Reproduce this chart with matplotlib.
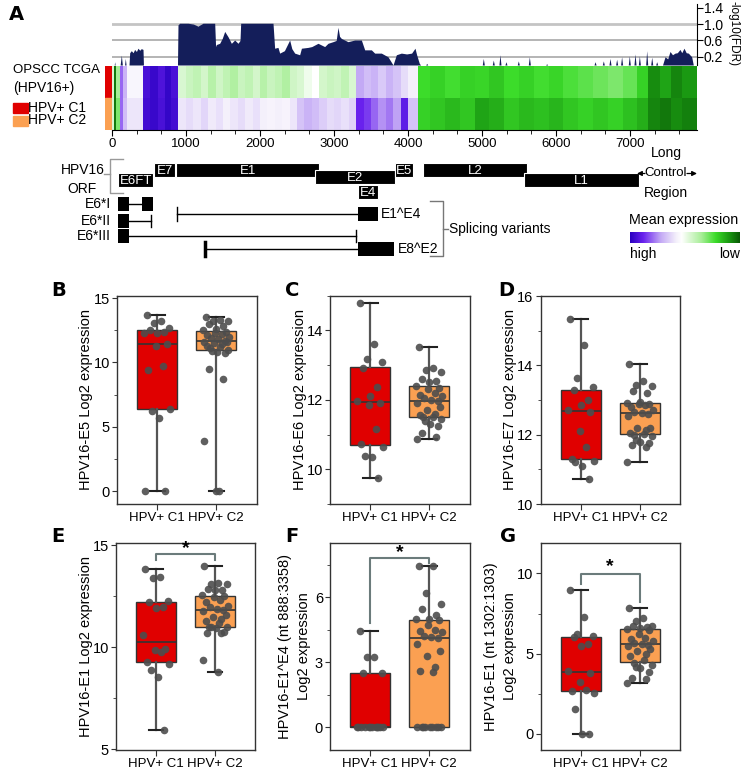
import numpy as np
import matplotlib
matplotlib.use("Agg")
import matplotlib.pyplot as plt
from matplotlib.colors import LinearSegmentedColormap
from matplotlib.patches import Rectangle
from matplotlib.ticker import AutoMinorLocator

plt.rcParams['font.family'] = ['Liberation Sans', 'DejaVu Sans']

# -------------------------------
# Panel A data
# -------------------------------
GENOME = 7906

# -log10(FDR) profile along the genome (bp, value)
cov_pos = [0, 30, 36, 42, 110, 126, 140, 170, 180, 190, 230, 239, 261, 285, 306, 330,
           351, 375, 396, 419, 425, 885, 892, 914, 1027, 1100, 1162, 1230, 1297, 1388,
           1400, 1410, 1455, 1490, 1523, 1568, 1613, 1658, 1703, 1730, 1739, 1770, 1973,
           2176, 2198, 2243, 2266, 2330, 2401, 2430, 2469, 2536, 2560, 2649, 2700, 2784,
           2874, 2919, 2987, 3030, 3054, 3075, 3099, 3189, 3280, 3370, 3415, 3505, 3550,
           3640, 3730, 3798, 3843, 3910, 3982, 4049, 4095, 4117, 4153, 4171]
cov_val = [0, 0, 0.08, 0, 0, 0.24, 0, 0, 0.16, 0, 0, 0.30, 0.35, 0.30, 0.38, 0.33,
           0.41, 0.36, 0.40, 0.38, 0, 0, 0.98, 1.02, 1.02, 1.0, 0.95, 1.02, 1.02, 1.02,
           0.45, 0.50, 0.53, 0.65, 0.82, 0.69, 0.53, 0.61, 0.53, 0.60, 1.02, 1.02, 1.02,
           1.02, 0.41, 0.43, 0.29, 0.35, 0.61, 0.40, 0.29, 0.25, 0.41, 0.43, 0.45, 0.53,
           0.45, 0.53, 0.57, 0.60, 0.92, 0.70, 0.65, 0.57, 0.61, 0.61, 0.37, 0.37, 0.29,
           0.29, 0.20, 0.0, 0.25, 0.29, 0.27, 0.29, 0.41, 0.25, 0.04, 0]
spike_pos = [4253, 5018, 5153, 5243, 5324, 5491, 5640, 5874, 6528, 6640, 6730, 6820,
             6887, 6991, 7068, 7127, 7226, 7294, 7361]
spike_val = [0.04, 0.16, 0.12, 0.25, 0.08, 0.10, 0.20, 0.03, 0.08, 0.10, 0.16, 0.14,
             0.20, 0.22, 0.27, 0.22, 0.35, 0.19, 0.08]
tail_pos = [7440, 7474, 7510, 7541, 7575, 7609, 7640, 7676, 7700, 7730, 7760, 7789, 7834, 7856, 7906]
tail_val = [0, 0.20, 0.15, 0.33, 0.25, 0.29, 0.30, 0.38, 0.30, 0.41, 0.30, 0.29, 0.20, 0, 0]

# mean expression heatmap (0 = high / purple, 1 = low / dark green)
heat_edges = [0, 30, 60, 110, 150, 200, 420, 520, 620, 720, 800, 890, 1000, 1100, 1200,
              1300, 1400, 1500, 1600, 1700, 1800, 1900, 2000, 2100, 2200, 2300, 2400, 2500,
              2600, 2700, 2800, 2900, 3000, 3100, 3200, 3300, 3400, 3500, 3600, 3700, 3800,
              3900, 4000, 4130, 4300, 4500, 4700, 4900, 5100, 5300, 5500, 5700, 5900, 6100,
              6300, 6500, 6700, 6900, 7100, 7250, 7400, 7550, 7700, 7906]
c1_heat = [0.55, 0.95, 0.65, 0.2, 0.3, 0.44, 0.06, 0.03, 0.07, 0.02, 0.06,
           0.55, 0.58, 0.6, 0.56, 0.62, 0.57, 0.6, 0.63, 0.58, 0.6, 0.56, 0.62, 0.58, 0.6,
           0.63, 0.57, 0.55, 0.5, 0.47, 0.56, 0.58, 0.57, 0.6, 0.55,
           0.28, 0.32, 0.3, 0.34, 0.3, 0.33, 0.38, 0.42,
           0.78, 0.8, 0.77, 0.8, 0.79, 0.82, 0.78, 0.8, 0.77, 0.79, 0.76, 0.74, 0.72, 0.7,
           0.73, 0.8,
           0.92, 0.88, 0.93, 0.9]
c2_heat = [0.55, 0.95, 0.7, 0.2, 0.32, 0.4, 0.05, 0.03, 0.06, 0.02, 0.05,
           0.4, 0.38, 0.4, 0.37, 0.41, 0.39, 0.42, 0.4, 0.38, 0.41, 0.39, 0.42, 0.43, 0.42,
           0.43, 0.4, 0.33, 0.3, 0.32, 0.35, 0.38, 0.37, 0.39, 0.36,
           0.12, 0.15, 0.2, 0.25, 0.22, 0.27, 0.1, 0.33,
           0.8, 0.82, 0.84, 0.82, 0.88, 0.86, 0.82, 0.84, 0.83, 0.85, 0.82, 0.8, 0.82, 0.8,
           0.83, 0.86,
           0.93, 0.95, 0.92, 0.94]

# HPV16 ORFs (bp)
orf_names = ['E6FT', 'E7', 'E1', 'E2', 'E4', 'E5', 'L2', 'L1']
orf_start = [83, 562, 865, 2740, 3320, 3830, 4200, 5570]
orf_end = [559, 858, 2800, 3830, 3590, 4070, 5610, 7120]

# splicing variants (bp)
sv_names = ['E6*I', 'E1^E4', 'E6*II', 'E6*III', 'E8^E2']
sv_exon_a = [(83, 226), None, (83, 226), (83, 226), None]
sv_intron = [(226, 409), (880, 3330), (226, 526), (226, 3300), (1260, 3330)]
sv_exon_b = [(409, 559), (3330, 3590), None, None, (3330, 3810)]

# -------------------------------
# Panels B-G data (log2 expression)
# -------------------------------
groups = ['HPV+ C1', 'HPV+ C2']
e5_c1 = [13.7, 13.2, 13.1, 12.7, 12.5, 12.4, 12.3, 12.3, 11.4, 11.3, 9.7, 9.4, 6.4, 6.2, 5.7, 0.0, 0.0]
e5_c2 = [13.5, 13.3, 13.2, 13.2, 13.0, 12.8, 12.6, 12.5, 12.4, 12.3, 12.2, 12.1, 12.0, 11.9, 11.8,
         11.7, 11.6, 11.6, 11.5, 11.4, 11.3, 11.2, 11.1, 11.0, 10.9, 10.8, 10.7, 9.5, 8.7, 3.9, 0.0, 0.0]
e6_c1 = [14.77, 13.59, 13.18, 13.08, 12.9, 12.36, 12.12, 11.95, 11.9, 11.85, 11.16, 10.72,
         10.63, 10.37, 10.35, 9.75]
e6_c2 = [13.52, 12.9, 12.85, 12.8, 12.6, 12.55, 12.5, 12.4, 12.35, 12.3, 12.2, 12.15, 12.1, 12.05,
         12.0, 11.95, 11.9, 11.8, 11.7, 11.6, 11.55, 11.5, 11.5, 11.45, 11.4, 11.3, 11.25, 11.05,
         10.92, 10.88]
e7_c1 = [15.34, 14.6, 13.65, 13.38, 13.28, 13.0, 12.85, 12.72, 12.67, 12.12, 11.65, 11.3, 11.25,
         11.2, 11.1, 10.72]
e7_c2 = [14.05, 13.55, 13.45, 13.4, 13.25, 13.2, 12.95, 12.93, 12.9, 12.88, 12.85, 12.8, 12.7,
         12.65, 12.63, 12.6, 12.55, 12.2, 12.2, 12.15, 12.05, 12.03, 12.0, 11.95, 11.85, 11.8,
         11.75, 11.7, 11.65, 11.2]
e1_c1 = [13.85, 13.45, 13.4, 12.25, 12.2, 11.95, 11.93, 10.6, 9.92, 9.85, 9.78, 9.3, 9.2, 8.9,
         8.53, 5.96]
e1_c2 = [13.96, 13.15, 13.1, 13.1, 12.85, 12.8, 12.8, 12.55, 12.5, 12.45, 12.3, 12.2, 12.0, 11.95,
         11.85, 11.8, 11.75, 11.6, 11.5, 11.4, 11.3, 11.2, 11.0, 11.0, 10.98, 10.95, 10.75, 10.72,
         10.7, 9.35, 8.78]
e1e4_c1 = [4.45, 3.23, 3.23, 2.5, 2.48, 0, 0, 0, 0, 0, 0, 0, 0, 0, 0, 0, 0]
e1e4_c2 = [7.45, 7.45, 6.2, 5.7, 5.45, 5.2, 5.0, 4.98, 4.95, 4.7, 4.5, 4.45, 4.4, 4.2, 4.15,
           4.1, 3.85, 3.5, 3.3, 2.8, 2.6, 2.55, 0, 0, 0, 0, 0, 0, 0, 0, 0]
e1nt_c1 = [8.96, 7.3, 6.22, 6.1, 6.02, 5.6, 5.48, 3.95, 3.78, 3.26, 2.74, 2.7, 2.53, 1.56, 0, 0]
e1nt_c2 = [7.82, 7.2, 7.05, 6.7, 6.7, 6.65, 6.6, 6.55, 6.45, 6.25, 6.0, 5.9, 5.8, 5.65, 5.6,
           5.55, 5.5, 5.3, 5.15, 5.0, 4.85, 4.6, 4.45, 4.3, 4.2, 4.1, 3.85, 3.5, 3.45, 3.15]

# -------------------------------
# Figure and helpers
# -------------------------------
W, H = 744, 773
fig = plt.figure(figsize=(W / 100, H / 100), dpi=100)


def rect(l, t, r, b):
    return [l / W, 1 - b / H, (r - l) / W, (b - t) / H]


def fxy(x, y):
    return (x / W, 1 - y / H)


X0, X1 = 112, 697
K = GENOME / (X1 - X0)


def bpx(x):
    return (x - X0) * K


cmap = LinearSegmentedColormap.from_list('expr', [
    (0.0, '#2a00c0'), (0.12, '#6a22ee'), (0.28, '#c4aaf5'), (0.42, '#f4f0fb'),
    (0.47, '#ffffff'), (0.55, '#d8f7d0'), (0.65, '#a8ee98'), (0.78, '#3cdc2a'),
    (0.9, '#1a9a12'), (1.0, '#0a5a06')])
C1_COL, C2_COL = '#e00000', '#fba052'
FS = 10
LETTER = dict(ha='left', va='center', fontsize=14, fontweight='bold', family='DejaVu Sans')

# -------------------------------
# Panel A: FDR track
# -------------------------------
ax_cov = fig.add_axes(rect(X0, 3.6, X1, 65))
for g, c, lw in [(0.2, '#a8a8a8', 1.2), (0.6, '#a8a8a8', 1.2), (1.0, '#c4c4c4', 2.0)]:
    ax_cov.axhline(g, color=c, lw=lw, zorder=0)
ax_cov.fill_between(cov_pos, cov_val, color='#141e5a', lw=0, zorder=2)
for p, v in zip(spike_pos, spike_val):
    ax_cov.fill_between([p - 14, p, p + 14], [0, v, 0], color='#141e5a', lw=0, zorder=2)
ax_cov.fill_between(tail_pos, tail_val, color='#141e5a', lw=0, zorder=2)
ax_cov.set_xlim(0, GENOME)
ax_cov.set_ylim(0, 1.5)
ax_cov.set_xticks([])
ax_cov.yaxis.tick_right()
ax_cov.set_yticks([0.2, 0.6, 1.0, 1.4])
ax_cov.set_yticklabels(['0.2', '0.6', '1.0', '1.4'])
ax_cov.tick_params(axis='y', labelsize=10, length=4, pad=1)
for s in ['left', 'top', 'bottom']:
    ax_cov.spines[s].set_visible(False)
fig.text(*fxy(734, 34), '-log10(FDR)', rotation=270, ha='center', va='center', fontsize=8.5)

# heatmap
ax_hm = fig.add_axes(rect(X0, 66, X1, 130))
ax_hm.pcolormesh(heat_edges, [0, 1, 2], np.vstack([c1_heat, c2_heat]), cmap=cmap, vmin=0, vmax=1)
ax_hm.set_xlim(0, GENOME)
ax_hm.set_ylim(2, 0)
ax_hm.set_yticks([])
ax_hm.set_xticks(range(0, 8000, 1000))
ax_hm.xaxis.set_minor_locator(AutoMinorLocator(3))
ax_hm.tick_params(axis='x', labelsize=9.5, length=4, pad=2)
ax_hm.tick_params(axis='x', which='minor', length=3)
for s in ['left', 'top', 'right']:
    ax_hm.spines[s].set_visible(False)

ax_strip = fig.add_axes(rect(105, 66, 112, 130))
ax_strip.axhspan(1, 2, color=C1_COL)
ax_strip.axhspan(0, 1, color=C2_COL)
ax_strip.set_ylim(0, 2)
ax_strip.axis('off')

fig.text(*fxy(13, 70), 'OPSCC TCGA', ha='left', va='center', fontsize=9.5)
fig.text(*fxy(13, 88), '(HPV16+)', ha='left', va='center', fontsize=FS)
for yy, col, lab in [(107.5, C1_COL, groups[0]), (120.5, C2_COL, groups[1])]:
    fig.add_artist(Rectangle(fxy(13, yy + 5), 15 / W, 10 / H, color=col, transform=fig.transFigure))
    fig.text(*fxy(28, yy), lab, ha='left', va='center', fontsize=FS)
fig.text(*fxy(9, 15), 'A', **LETTER)

# gene map
ax_g = fig.add_axes(rect(0, 145, W, 262))
ax_g.set_xlim(bpx(0), bpx(W))
ax_g.set_ylim(262, 145)
ax_g.axis('off')
orf_top = {'E6FT': 173, 'E7': 163, 'E1': 163, 'E2': 170, 'E4': 185, 'E5': 163, 'L2': 163, 'L1': 173}
for n, s, e in zip(orf_names, orf_start, orf_end):
    t = orf_top[n]
    ax_g.add_patch(Rectangle((s, t), e - s, 14, fc='black', ec='white', lw=0.8))
    ax_g.text((s + e) / 2, t + 7.5, n, color='white', ha='center', va='center', fontsize=9.5)

ax_g.plot([bpx(122.7), bpx(110), bpx(110), bpx(122.7)], [159, 159, 193, 193], color='#999999', lw=1)
ax_g.plot([bpx(104), bpx(110)], [174, 174], color='#999999', lw=1)
ax_g.text(bpx(105), 170, 'HPV16', ha='right', va='center', fontsize=FS)
ax_g.text(bpx(97), 189, 'ORF', ha='right', va='center', fontsize=FS)

ax_g.text(bpx(666), 153, 'Long', ha='center', va='center', fontsize=FS)
ax_g.text(bpx(666), 173, 'Control', ha='center', va='center', fontsize=9.5)
ax_g.text(bpx(666), 193, 'Region', ha='center', va='center', fontsize=FS)
for a_from, a_to in [(645, 637), (687, 697)]:
    ax_g.annotate('', xy=(bpx(a_to), 173.5), xytext=(bpx(a_from), 173.5),
                  arrowprops=dict(arrowstyle='-|>', color='black', lw=0.9,
                                  mutation_scale=7, shrinkA=0, shrinkB=0))

sv_y = [204, 214, 221, 236, 249]
sv_tick_lw = [1, 1, 1, 1, 2.5]
for n, a, it, b, y, tlw in zip(sv_names, sv_exon_a, sv_intron, sv_exon_b, sv_y, sv_tick_lw):
    ax_g.plot(it, [y, y], color='black', lw=1)
    if a is not None:
        ax_g.add_patch(Rectangle((a[0], y - 7), a[1] - a[0], 14, fc='black', ec='none'))
        ax_g.text(bpx(111), y, n, ha='right', va='center', fontsize=FS)
    else:
        ax_g.plot([it[0], it[0]], [y - 7, y + 7], color='black', lw=tlw)
    if b is not None:
        ax_g.add_patch(Rectangle((b[0], y - 7), b[1] - b[0], 14, fc='black', ec='none'))
        if a is None:
            ax_g.text(b[1] + 50, y, n, ha='left', va='center', fontsize=FS)
    else:
        ax_g.plot([it[1], it[1]], [y - 6, y + 6], color='black', lw=1)

ax_g.plot([bpx(430), bpx(443), bpx(443), bpx(430)], [201, 201, 256, 256], color='#777777', lw=1)
ax_g.plot([bpx(443), bpx(448)], [229, 229], color='#777777', lw=1)
ax_g.text(bpx(449), 229, 'Splicing variants', ha='left', va='center', fontsize=FS)

ax_cb = fig.add_axes(rect(630, 232, 740, 243))
ax_cb.imshow(np.linspace(0, 1, 256)[None, :], cmap=cmap, aspect='auto')
ax_cb.axis('off')
fig.text(*fxy(629, 220), 'Mean expression', ha='left', va='center', fontsize=10.3)
fig.text(*fxy(630, 254), 'high', ha='left', va='center', fontsize=FS)
fig.text(*fxy(740, 254), 'low', ha='right', va='center', fontsize=FS)

# -------------------------------
# Panels B-G: box plots
# -------------------------------
JIT = [-0.18, 0.06, -0.06, 0.2, -0.12, 0.12, 0.0, -0.22, 0.16, -0.02, 0.09, -0.15, 0.22,
       -0.09, 0.03, 0.14, -0.2, 0.18, -0.04, 0.1, -0.16, 0.07, -0.1, 0.2, -0.07, 0.01, 0.15,
       -0.13, 0.11, -0.21, 0.05, -0.01]

panels = [
    ('B', rect(117, 295.5, 256.5, 504), e5_c1, e5_c2, (-1.0, 15.2), [0, 5, 10, 15],
     'HPV16-E5 Log2 expression', -0.175, (51, 290), None),
    ('C', rect(330, 295.5, 469.5, 504), e6_c1, e6_c2, (9.0, 15.0), [10, 12, 14],
     'HPV16-E6 Log2 expression', -0.168, (285, 290), None),
    ('D', rect(540.5, 295.5, 680, 504), e7_c1, e7_c2, (10.0, 16.02), [10, 12, 14, 16],
     'HPV16-E7 Log2 expression', -0.168, (498, 290), None),
    ('E', rect(116, 543, 255, 750), e1_c1, e1_c2, (4.97, 15.1), [5, 10, 15],
     'HPV16-E1 Log2 expression', -0.168, (51, 537), (14.55, 14.28, 14.28, 14.84)),
    ('F', rect(330, 543, 469.5, 750), e1e4_c1, e1e4_c2, (-1.05, 8.5), [0, 3, 6],
     'HPV16-E1^E4 (nt 888:3358)\nLog2 expression', -0.137, (285, 537), (7.83, 4.81, 7.58, 8.06)),
    ('G', rect(540.5, 543, 680, 750), e1nt_c1, e1nt_c2, (-1.0, 11.9), [0, 5, 10],
     'HPV16-E1 (nt 1302:1303)\nLog2 expression', -0.168, (500, 537), (9.94, 9.33, 8.23, 10.4)),
]

for letter, pos, d1, d2, ylim, yt, ylab, labx, lpos, sig in panels:
    ax = fig.add_axes(pos)
    bp = ax.boxplot([d1, d2], positions=[1, 2], widths=0.68, whis=(0, 100), patch_artist=True,
                    showfliers=False, capwidths=0.25,
                    medianprops=dict(color='#333333', lw=1.2),
                    whiskerprops=dict(color='#555555', lw=1.6),
                    capprops=dict(color='#222222', lw=1.5),
                    boxprops=dict(ec='#333333', lw=1))
    for patch, col in zip(bp['boxes'], [C1_COL, C2_COL]):
        patch.set_facecolor(col)
    for i, d in enumerate([d1, d2]):
        ax.scatter(np.full(len(d), i + 1.0) + np.array(JIT[:len(d)]), d, s=30,
                   color='#4d4d4d', alpha=0.9, lw=0, zorder=4)
    if sig is not None:
        top, left_low, right_low, star_y = sig
        ax.plot([1, 1, 2, 2], [left_low, top, top, right_low], color='#6b7b7b', lw=1.5)
        ax.text(1.5, star_y, '*', ha='center', va='center', fontsize=14, fontweight='bold')
    ax.set_xlim(0.32, 2.68)
    ax.set_ylim(*ylim)
    ax.set_yticks(yt)
    ax.yaxis.set_minor_locator(AutoMinorLocator(2))
    ax.set_xticks([1, 2])
    ax.set_xticklabels(groups)
    ax.tick_params(axis='y', labelsize=10.5, length=3.5, pad=1.5, color='#333333')
    ax.tick_params(axis='x', labelsize=9.5, length=4, pad=2, color='#333333')
    ax.tick_params(axis='y', which='minor', length=2.5, color='#333333')
    for s in ax.spines.values():
        s.set_color('#333333')
        s.set_linewidth(1)
    ax.set_ylabel(ylab, fontsize=10.5, linespacing=1.45)
    ax.yaxis.set_label_coords(labx, 0.5)
    fig.text(*fxy(*lpos), letter, **LETTER)

fig.savefig('out.png', dpi=100)
